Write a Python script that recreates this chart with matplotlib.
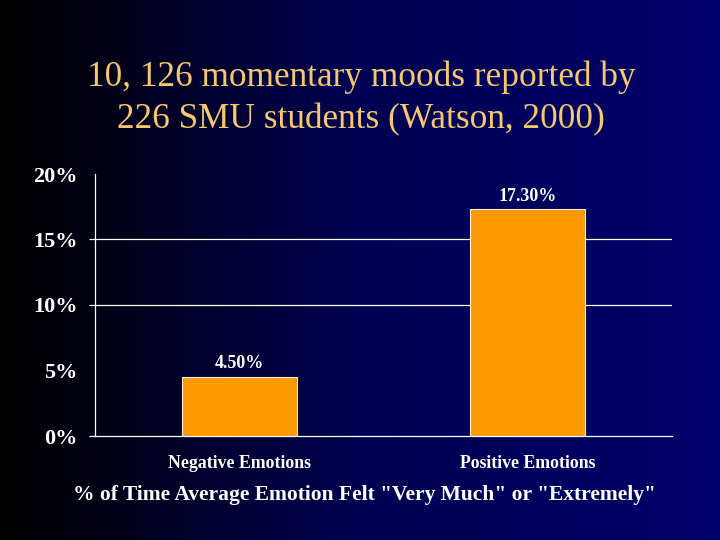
import numpy as np
from matplotlib import pyplot as plt

categories = ['Negative Emotions', 'Positive Emotions']
values = [4.5, 17.3]
value_labels = ['4.50%', '17.30%']
y_ticks = [0, 5, 10, 15, 20]
y_labels = ['0%', '5%', '10%', '15%', '20%']
# only these levels have a tick mark, and 10 and 15 also have a gridline
marked_ticks = [0, 10, 15]
grid_levels = [10, 15]

W, H = 720, 540
plt.rcParams['font.family'] = ['Liberation Serif', 'DejaVu Serif']

fig = plt.figure(figsize=(W / 100, H / 100), dpi=100)

# background gradient, black on the left to navy on the right
bg = fig.add_axes([0, 0, 1, 1], zorder=0)
blue = np.interp(np.arange(W), [0, 10, 360, 720], [0, 0, 82, 106]) / 255
grad = np.zeros((1, W, 3))
grad[0, :, 2] = blue
bg.imshow(grad, aspect='auto', extent=[0, 1, 0, 1])
bg.axis('off')

fig.text(361 / W, 1 - 77 / H, '10, 126 momentary moods reported by', color='#f5c76e',
         fontsize=25.4, ha='center', va='center')
fig.text(361 / W, 1 - 120 / H, '226 SMU students (Watson, 2000)', color='#f5c76e',
         fontsize=25.4, ha='center', va='center')

# axes box from pixel positions of the plot area
left, right, top, bottom = 95, 672, 174, 436
ax = fig.add_axes([left / W, 1 - bottom / H, (right - left) / W, (bottom - top) / H], zorder=1)
ax.patch.set_alpha(0)

x = [0, 1]
ax.bar(x, values, width=0.4, color='#ff9900', edgecolor='#fff4dd', linewidth=0.8, zorder=3)
ax.set_xlim(-0.5, 1.5)
ax.set_ylim(0, 20)

ax.set_yticks(y_ticks)
ax.set_yticklabels(y_labels, color='white', fontsize=16, fontweight='bold')
ax.set_xticks(x)
ax.set_xticklabels(categories, color='white', fontsize=12.8, fontweight='bold')
ax.tick_params(axis='y', length=4.3, width=0.9, color='white', pad=8)
ax.tick_params(axis='x', length=0, pad=13.5)

ax.yaxis.grid(True, color='white', linewidth=0.9, zorder=1)
ax.set_axisbelow(True)
for level, tick in zip(y_ticks, ax.yaxis.get_major_ticks()):
    tick.tick1line.set_visible(level in marked_ticks)
    tick.gridline.set_visible(level in grid_levels)

for side in ['top', 'right']:
    ax.spines[side].set_visible(False)
for side in ['left', 'bottom']:
    ax.spines[side].set_color('white')
    ax.spines[side].set_linewidth(0.9)

for xi, v, lab in zip(x, values, value_labels):
    ax.annotate(lab, (xi, v), xytext=(0, 3.5), textcoords='offset points', color='white',
                fontsize=13, fontweight='bold', ha='center', va='bottom')

fig.text(364 / W, 1 - 495 / H, '% of Time Average Emotion Felt "Very Much" or "Extremely"',
         color='white', fontsize=15.5, fontweight='bold', ha='center', va='center')

fig.savefig('out.png', dpi=100)
